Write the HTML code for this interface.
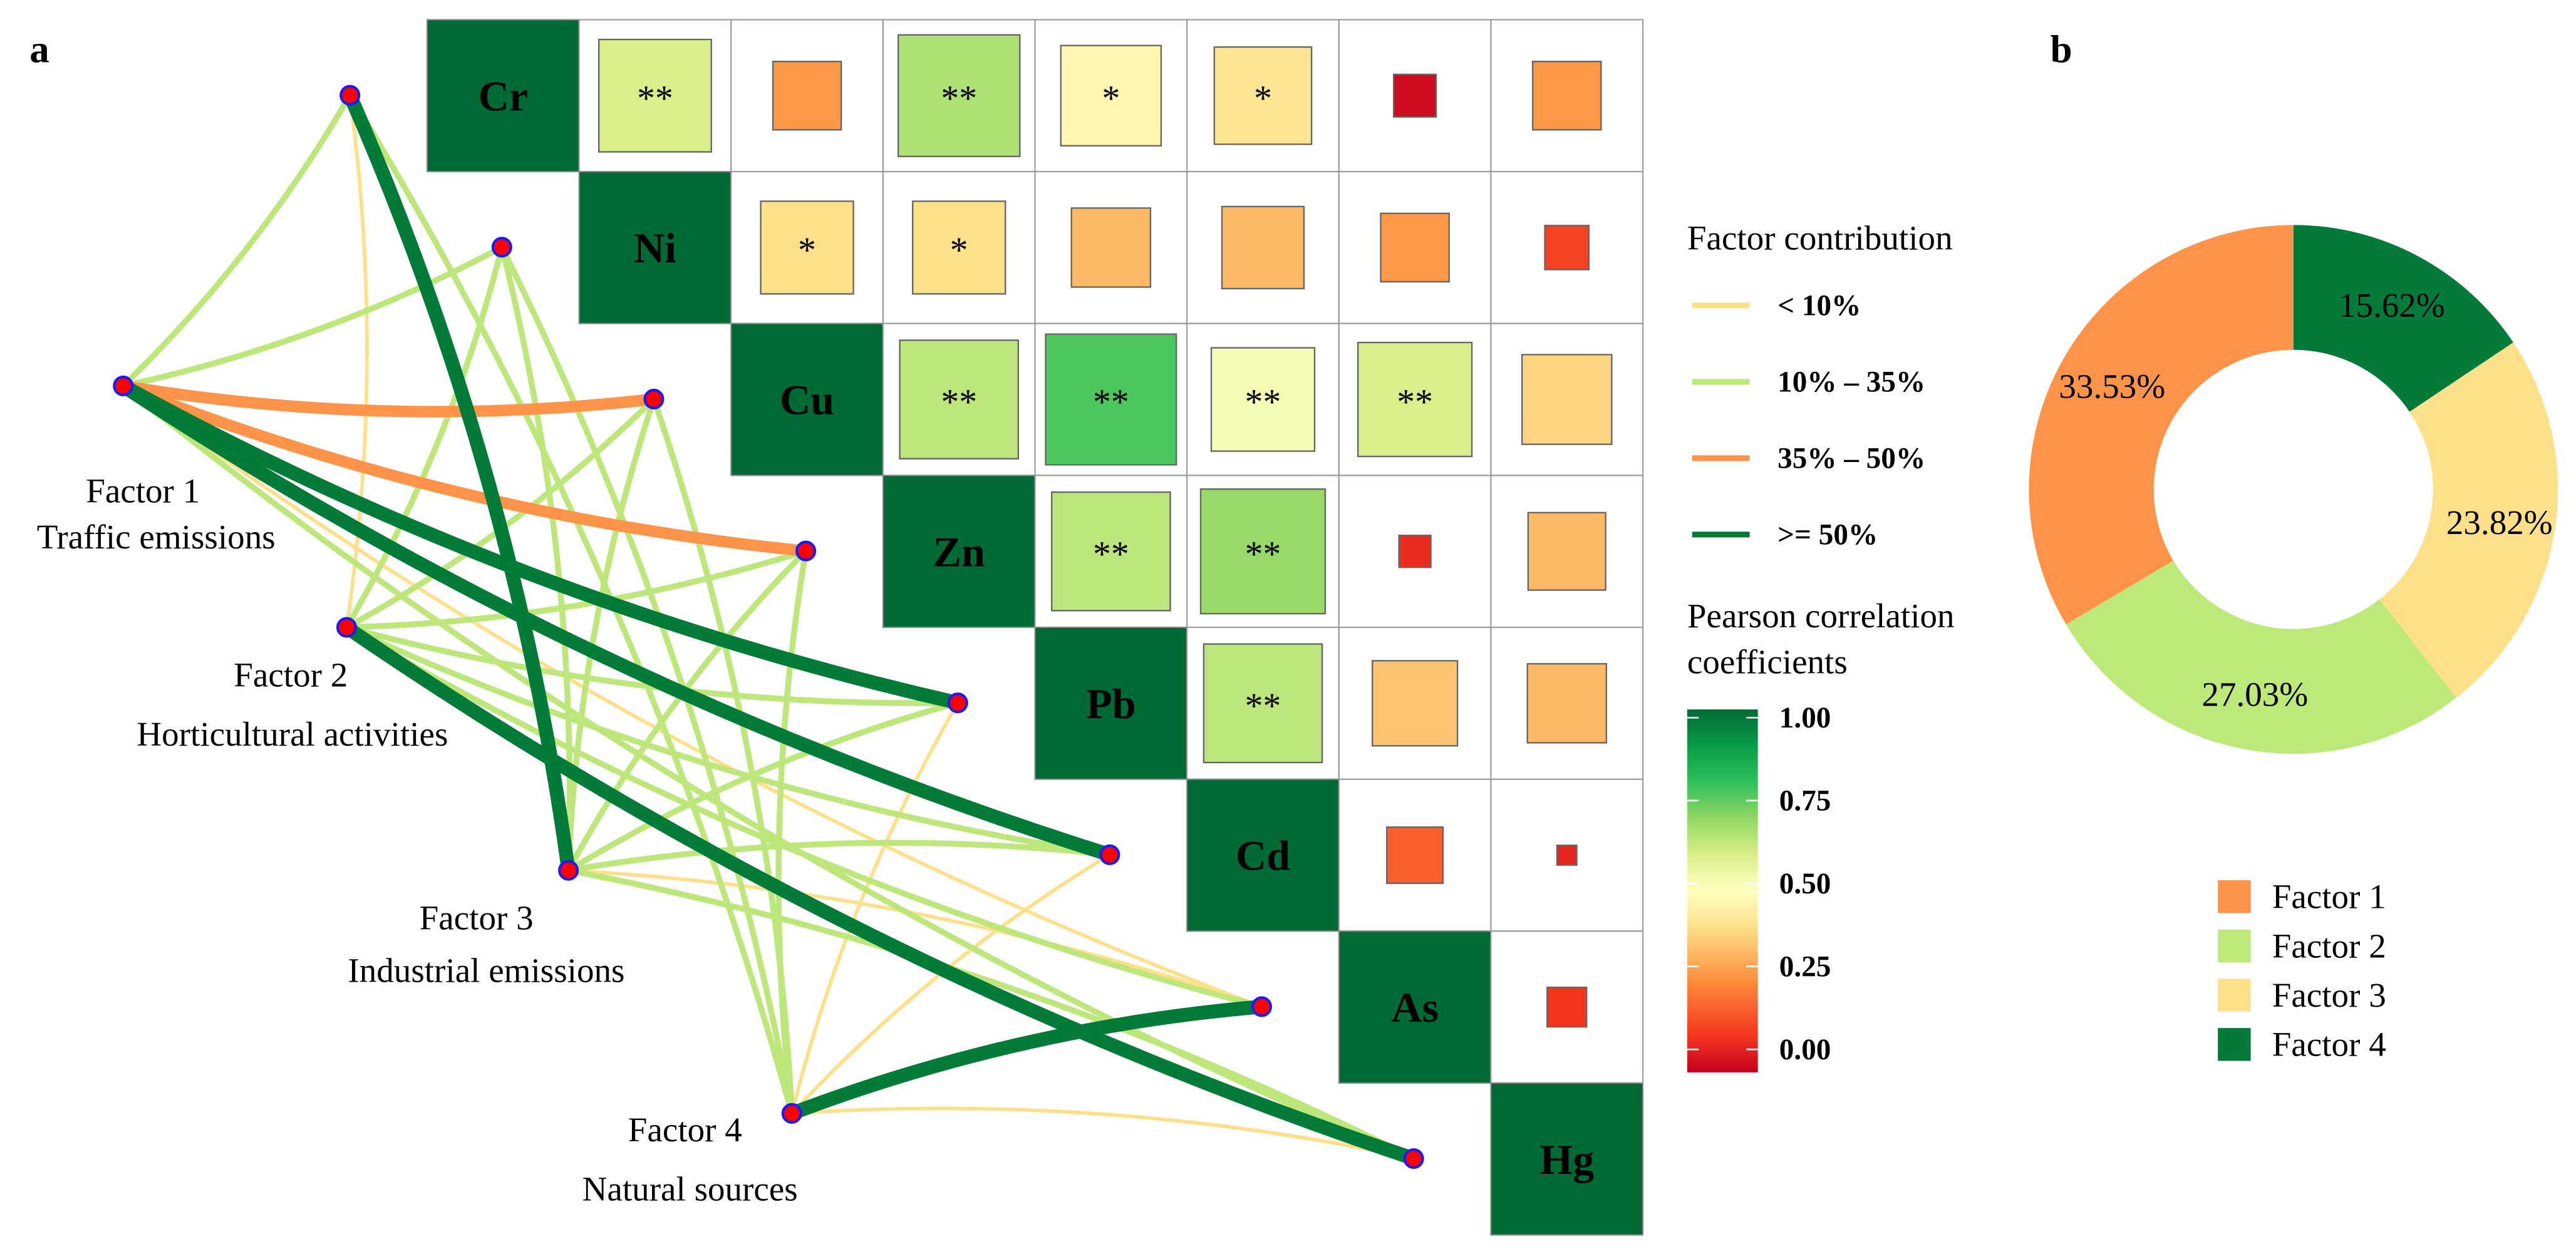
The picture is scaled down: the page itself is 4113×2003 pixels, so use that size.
<!DOCTYPE html>
<html><head><meta charset="utf-8">
<style>html,body{margin:0;padding:0;background:#fff}svg{display:block}svg text{font-family:"Liberation Serif","DejaVu Serif",serif}</style>
</head><body>
<svg id="fig" xmlns="http://www.w3.org/2000/svg" width="4113" height="2003" viewBox="0 0 1568 763.6">
<rect width="1568" height="763.6" fill="#fff"/>
<text x="18" y="38" font-size="24" font-weight="bold">a</text>
<text x="1248" y="38" font-size="24" font-weight="bold">b</text>
<g id="edges"></g>
<g id="grid"></g>
<g id="nodes"></g>
<g id="factorLabels"></g>
<g>
<text x="1027" y="152" font-size="21">Factor contribution</text>
<g id="contribLegend"></g>
</g>
<g>
<text x="1027" y="382" font-size="21">Pearson correlation</text>
<text x="1027" y="410" font-size="21">coefficients</text>
<defs><linearGradient id="cbg" x1="0" y1="1" x2="0" y2="0"></linearGradient></defs>
<rect x="1027" y="432" width="43" height="221" fill="url(#cbg)"/>
<g id="cbTicks"></g>
</g>
<g id="donut"></g>
<g id="donutLegend"></g>
</svg>
<script>
const NS='http://www.w3.org/2000/svg';
const elements=['Cr','Ni','Cu','Zn','Pb','Cd','As','Hg'];
// upper-triangle correlation values (row i, col j>i), colour
const corrValues=[
 [0.60,0.27,0.66,0.47,0.42,0.02,0.27],
 [0.40,0.40,0.33,0.33,0.27,0.12],
 [0.64,0.77,0.52,0.60,0.38],
 [0.64,0.69,0.08,0.33],
 [0.64,0.35,0.33],
 [0.17,0.07],
 [0.10]
];
// square size (fraction of the cell)
const sizeValues=[
 [0.74,0.45,0.80,0.66,0.64,0.28,0.45],
 [0.61,0.61,0.52,0.54,0.45,0.29],
 [0.78,0.86,0.68,0.75,0.59],
 [0.78,0.82,0.21,0.51],
 [0.78,0.56,0.52],
 [0.37,0.13],
 [0.26]
];
const sigLabels=[
 ['**','','**','*','*','',''],
 ['*','*','','','',''],
 ['**','**','**','**',''],
 ['**','**','',''],
 ['**','',''],
 ['',''],
 ['']
];
const factors=['Factor 1','Factor 2','Factor 3','Factor 4'];
const factorSources=['Traffic emissions','Horticultural activities','Industrial emissions','Natural sources'];
// contribution class of each factor to each element: 0 <10%,1 10-35%,2 35-50%,3 >=50%
const contribClass=[
 [1,1,2,2,3,3,0,1],
 [0,1,1,1,1,1,1,3],
 [3,1,1,1,1,1,0,1],
 [1,1,1,1,0,0,3,0]
];
const contribLabels=['< 10%','10% \u2013 35%','35% \u2013 50%','>= 50%'];
const colorbarTicks=[1.00,0.75,0.50,0.25,0.00];
const pieLabels=['Factor 1','Factor 2','Factor 3','Factor 4'];
const pieValues=[33.53,27.03,23.82,15.62];

const classColor=['#fee08a','#bde77a','#fd9449','#027a38'];
const classWidth=[2.2,3.6,7,8.5];
const pieColors=['#fd9449','#bde87a','#fee08a','#037a3a'];
const cmap=[[0,'#c4001f'],[0.1,'#f4361f'],[0.25,'#fd8d3c'],[0.4,'#fee08b'],[0.5,'#ffffbf'],[0.6,'#d9ef8b'],[0.7,'#91d865'],[0.8,'#2fbf5a'],[0.9,'#0a9c48'],[1,'#006934']];
function hex(c){return [1,3,5].map(i=>parseInt(c.substr(i,2),16));}
function colorOf(v){for(let k=1;k<cmap.length;k++){if(v<=cmap[k][0]){const a=cmap[k-1],b=cmap[k];const t=(v-a[0])/(b[0]-a[0]);const ca=hex(a[1]),cb=hex(b[1]);return 'rgb('+ca.map((x,i)=>Math.round(x+(cb[i]-x)*t)).join(',')+')';}}return cmap[cmap.length-1][1];}
function mk(tag,attrs,parent){const e=document.createElementNS(NS,tag);for(const k in attrs)e.setAttribute(k,attrs[k]);parent.appendChild(e);return e;}

// grid scales
const gx0=260,gy0=12,cell=92.5;
const cx=j=>gx0+j*cell, cy=i=>gy0+i*cell;
const grid=document.getElementById('grid');
for(let i=0;i<elements.length;i++){
  for(let j=i;j<elements.length;j++){
    if(i===j){
      const r=mk('rect',{x:cx(j),y:cy(i),width:cell,height:cell,fill:'#006934',stroke:'#888','stroke-width':0.8},grid);
      
      
      const t=mk('text',{x:cx(j)+cell/2,y:cy(i)+cell/2+9,'font-size':26,'font-weight':'bold','text-anchor':'middle',fill:'#000'},grid);
      t.textContent=elements[i];
      
      
    } else {
      const bg=mk('rect',{x:cx(j),y:cy(i),width:cell,height:cell,fill:'#fff',stroke:'#999','stroke-width':0.8},grid);
      
      
      const v=corrValues[i][j-i-1], s=sizeValues[i][j-i-1]*cell;
      const sq=mk('rect',{x:cx(j)+(cell-s)/2,y:cy(i)+(cell-s)/2,width:s,height:s,fill:colorOf(v),stroke:'#666','stroke-width':0.9},grid);
      
      
      const lab=sigLabels[i][j-i-1];
      if(lab){const t=mk('text',{x:cx(j)+cell/2,y:cy(i)+cell/2+9,'font-size':22,'text-anchor':'middle'},grid);t.textContent=lab;
        
        }
    }
  }
}
// network nodes
const elemNode=i=>[cx(i)-47,cy(i)+46];
const factorPos=[[75,235],[211,382],[346,530],[482,678]];
const edges=document.getElementById('edges');
const order=[];
for(let f=0;f<4;f++)for(let e=0;e<8;e++)order.push([f,e]);
order.sort((a,b)=>contribClass[a[0]][a[1]]-contribClass[b[0]][b[1]]);
order.forEach(([f,e])=>{
  const c=contribClass[f][e];
  const [x1,y1]=factorPos[f],[x2,y2]=elemNode(e);
  const dx=x2-x1,dy=y2-y1;const bend=(f<2?1:-1)*0.07;
  const mx=(x1+x2)/2+(-dy)*bend*(dx>0?1:-1), my=(y1+y2)/2+dx*bend*(dx>0?1:-1);
  const p=mk('path',{d:`M${x1},${y1} Q${mx},${my} ${x2},${y2}`,fill:'none',stroke:classColor[c],'stroke-width':classWidth[c]},edges);
  
  
});
const nodes=document.getElementById('nodes');
factorPos.concat(elements.map((_,i)=>elemNode(i))).forEach((p,k)=>{
  const n=mk('circle',{cx:p[0],cy:p[1],r:5.5,fill:'#f00',stroke:'#1a1aff','stroke-width':1.6},nodes);
  
  
});
const fl=document.getElementById('factorLabels');
const labPos=[[87,306,95,334],[177,418,178,454],[290,566,296,598],[417,695,420,731]];
factors.forEach((f,k)=>{
  const t1=mk('text',{x:labPos[k][0],y:labPos[k][1],'font-size':21,'text-anchor':'middle'},fl);t1.textContent=f;
  
  
  const t2=mk('text',{x:labPos[k][2],y:labPos[k][3],'font-size':21,'text-anchor':'middle'},fl);t2.textContent=factorSources[k];
  
  
});
// contribution legend
const cl=document.getElementById('contribLegend');
contribLabels.forEach((l,k)=>{
  const y=186+k*46.5;
  const ln=mk('line',{x1:1030,x2:1065,y1:y,y2:y,stroke:classColor[k],'stroke-width':3.5},cl);
  
  
  const t=mk('text',{x:1082,y:y+6,'font-size':18,'font-weight':'bold'},cl);t.textContent=l;
  
  
});
// colorbar
const g=document.getElementById('cbg');
cmap.forEach(s=>mk('stop',{offset:s[0],'stop-color':s[1]},g));
const cbY=v=>639-v*(639-437);
const ct=document.getElementById('cbTicks');
colorbarTicks.forEach(v=>{
  mk('line',{x1:1027,x2:1034,y1:cbY(v),y2:cbY(v),stroke:'#fff','stroke-width':1},ct);
  mk('line',{x1:1063,x2:1070,y1:cbY(v),y2:cbY(v),stroke:'#fff','stroke-width':1},ct);
  const t=mk('text',{x:1083,y:cbY(v)+6,'font-size':18,'font-weight':'bold'},ct);t.textContent=v.toFixed(2);
  
  
});
// donut: clockwise from top in reverse legend order
const dn=document.getElementById('donut');
const DCX=1396,DCY=298,RO=161,RI=85;
const total=pieValues.reduce((a,b)=>a+b,0);
let ang=0;
for(let k=pieValues.length-1;k>=0;k--){
  const a0=ang,a1=ang+pieValues[k]/total*2*Math.PI;ang=a1;
  const P=(r,a)=>[DCX+r*Math.sin(a),DCY-r*Math.cos(a)];
  const lg=(a1-a0)>Math.PI?1:0;
  const [ox0,oy0]=P(RO,a0),[ox1,oy1]=P(RO,a1),[ix1,iy1]=P(RI,a1),[ix0,iy0]=P(RI,a0);
  const p=mk('path',{d:`M${ox0},${oy0} A${RO},${RO} 0 ${lg} 1 ${ox1},${oy1} L${ix1},${iy1} A${RI},${RI} 0 ${lg} 0 ${ix0},${iy0} Z`,fill:pieColors[k]},dn);
  
  
  const am=(a0+a1)/2;const [tx,ty]=P((RO+RI)/2+4,am);
  const t=mk('text',{x:tx,y:ty+7,'font-size':21,'text-anchor':'middle'},dn);t.textContent=pieValues[k].toFixed(2)+'%';
  
  
}
const dl=document.getElementById('donutLegend');
pieLabels.forEach((l,k)=>{
  const y=546+k*30;
  const r=mk('rect',{x:1350,y:y-10,width:20,height:20,fill:pieColors[k]},dl);
  
  
  const t=mk('text',{x:1383,y:y+7,'font-size':21},dl);t.textContent=l;
  
  
});
</script>
</body></html>
